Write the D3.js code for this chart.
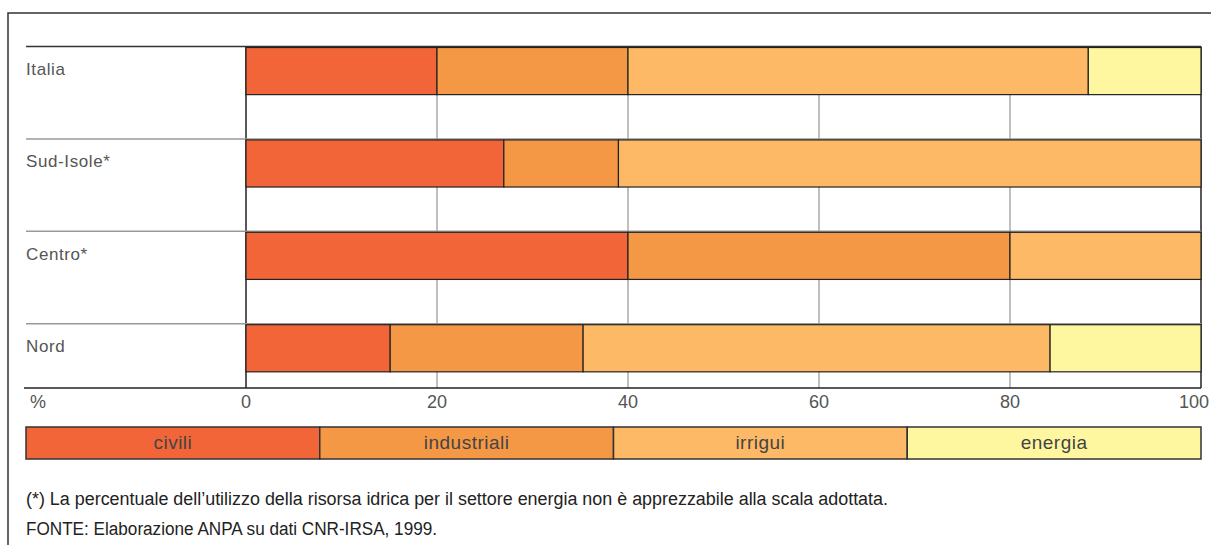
<!DOCTYPE html>
<html>
<head>
<meta charset="utf-8">
<script src="https://cdn.jsdelivr.net/npm/d3@7"></script>
<style>
  body { margin: 0; background: #fff; }
  text { font-family: "Liberation Sans", Arial, sans-serif; }
</style>
</head>
<body>
<script>
// data
const regions = ["Italia", "Sud-Isole*", "Centro*", "Nord"]
const sectors = ["civili", "industriali", "irrigui", "energia"]
const civili      = [20.0, 27.0, 40.0, 15.1]
const industriali = [20.0, 12.0, 40.0, 20.2]
const irrigui     = [48.2, 61.0, 20.0, 48.9]
const energia     = [11.8,  0.0,  0.0, 15.8]
const ticks = [0, 20, 40, 60, 80, 100]
const colors = ["#f26538", "#f59846", "#fdb965", "#fff79f"]

const note = "(*) La percentuale dell\u2019utilizzo della risorsa idrica per il settore energia non \u00e8 apprezzabile alla scala adottata."
const source = "FONTE: Elaborazione ANPA su dati CNR-IRSA, 1999."

const w = 1211
const h = 545

const rows = regions.map((r, i) => ({
  name: r,
  civili: civili[i], industriali: industriali[i], irrigui: irrigui[i], energia: energia[i]
}))
const stacked = d3.stack().keys(sectors)(rows)

const x = d3.scaleLinear().domain([0, 100]).range([246, 1201])
const y = d3.scaleBand().domain(regions).range([46.5, 46.5 + 4 * 92.4])
const axisY = 388
const labelLeft = 26

const svg = d3.select("body").append("svg")
  .attr("width", w)
  .attr("height", h)

// outer frame (cut off at right and bottom)
svg.append("path")
  .attr("d", `M8,${h} V13 H${w}`)
  .attr("fill", "none")
  .attr("stroke", "#333")
  .attr("stroke-width", 1.5)

// vertical grid
svg.selectAll(".grid")
  .data(ticks)
  .enter().append("line")
  .attr("x1", d => x(d)).attr("x2", d => x(d))
  .attr("y1", y.range()[0]).attr("y2", axisY)
  .attr("stroke", d => (d == 0 || d == 100) ? "#222" : "#aaa")
  .attr("stroke-width", 1.5)

// row separators
svg.selectAll(".sep")
  .data(regions)
  .enter().append("line")
  .attr("x1", labelLeft).attr("x2", x(100))
  .attr("y1", d => y(d)).attr("y2", d => y(d))
  .attr("stroke", (d, i) => i == 0 ? "#333" : "#999")
  .attr("stroke-width", 1.5)

// bars
const barH = y.bandwidth() * 0.51
svg.selectAll(".layer")
  .data(stacked)
  .enter().append("g")
  .attr("fill", (d, i) => colors[i])
  .selectAll("rect")
  .data(d => d.filter(s => s[1] - s[0] > 0))
  .enter().append("rect")
  .attr("x", d => x(d[0]))
  .attr("y", d => y(d.data.name) + 1)
  .attr("width", d => x(d[1]) - x(d[0]))
  .attr("height", barH)
  .attr("stroke", "#222")
  .attr("stroke-width", 1.2)

// row labels
svg.selectAll(".lbl")
  .data(regions)
  .enter().append("text")
  .attr("x", labelLeft)
  .attr("y", d => y(d) + 28.5)
  .attr("font-size", 17)
  .attr("letter-spacing", 0.6)
  .attr("fill", "#555")
  .text(d => d)

// bottom axis line
svg.append("line")
  .attr("x1", 24).attr("x2", x(100))
  .attr("y1", axisY).attr("y2", axisY)
  .attr("stroke", "#222")
  .attr("stroke-width", 1.5)

svg.selectAll(".tick")
  .data(ticks)
  .enter().append("text")
  .attr("x", d => d == 100 ? x(d) - 7 : x(d))
  .attr("y", 408)
  .attr("text-anchor", "middle")
  .attr("font-size", 18)
  .attr("fill", "#555")
  .text(d => d)

svg.append("text")
  .attr("x", 30).attr("y", 408)
  .attr("font-size", 18)
  .attr("fill", "#555")
  .text("%")

// legend
const lx = d3.scaleBand().domain(sectors).range([labelLeft, x(100)])
const legend = svg.selectAll(".leg")
  .data(sectors)
  .enter().append("g")
legend.append("rect")
  .attr("x", d => lx(d))
  .attr("y", 427)
  .attr("width", lx.bandwidth())
  .attr("height", 32)
  .attr("fill", (d, i) => colors[i])
  .attr("stroke", "#333")
  .attr("stroke-width", 1.5)
legend.append("text")
  .attr("x", d => lx(d) + lx.bandwidth() / 2)
  .attr("y", 449)
  .attr("text-anchor", "middle")
  .attr("font-size", 19)
  .attr("letter-spacing", 0.5)
  .attr("fill", "#444")
  .text(d => d)

// footnotes
svg.append("text")
  .attr("x", labelLeft).attr("y", 505)
  .attr("font-size", 18)
  .attr("fill", "#222")
  .attr("textLength", 862)
  .attr("lengthAdjust", "spacingAndGlyphs")
  .text(note)

svg.append("text")
  .attr("x", labelLeft).attr("y", 535)
  .attr("font-size", 18)
  .attr("fill", "#222")
  .attr("textLength", 411)
  .attr("lengthAdjust", "spacingAndGlyphs")
  .text(source)
</script>
</body>
</html>
